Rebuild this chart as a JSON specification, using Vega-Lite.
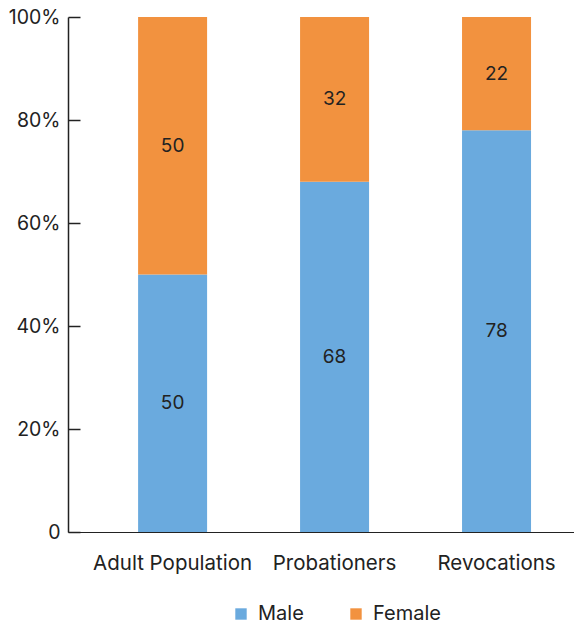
{
  "$schema": "https://vega.github.io/schema/vega-lite/v6.json",
  "autosize": {"type": "none"},
  "padding": {"left": 68, "top": 17, "right": 0, "bottom": 92},
  "width": 506,
  "height": 515,
  "config": {
    "font": "Inter",
    "view": {"stroke": null},
    "axis": {"labelFont": "Inter", "labelFontSize": 19.5, "labelColor": "#222222", "domainColor": "#222222", "tickColor": "#222222", "domainWidth": 1.5, "tickWidth": 1.5, "grid": false, "title": null},
    "legend": {"labelFont": "Inter", "labelFontSize": 20, "labelColor": "#222222"}
  },
  "data": {"values": [
    {"group": "Adult Population", "sex": "Male", "value": 50, "order": 1},
    {"group": "Adult Population", "sex": "Female", "value": 50, "order": 2},
    {"group": "Probationers", "sex": "Male", "value": 68, "order": 1},
    {"group": "Probationers", "sex": "Female", "value": 32, "order": 2},
    {"group": "Revocations", "sex": "Male", "value": 78, "order": 1},
    {"group": "Revocations", "sex": "Female", "value": 22, "order": 2}
  ]},
  "encoding": {
    "x": {"field": "group", "type": "nominal", "sort": null,
      "scale": {"paddingInner": 0.574, "paddingOuter": 0.349, "align": 0.62},
      "axis": {"labelAngle": 0, "ticks": false, "labelPadding": 21, "labelFontSize": 20.5, "domainWidth": 1.2}},
    "y": {"field": "value", "type": "quantitative", "stack": "normalize",
      "scale": {"domain": [0, 1]},
      "axis": {"values": [0, 0.2, 0.4, 0.6, 0.8, 1], "labelExpr": "datum.value == 0 ? '0' : format(datum.value, '.0%')", "tickSize": -12, "labelPadding": 20}},
    "order": {"field": "order", "type": "quantitative"}
  },
  "layer": [
    {"mark": {"type": "bar"},
      "encoding": {
        "color": {"field": "sex", "type": "nominal", "sort": ["Male", "Female"],
          "scale": {"domain": ["Male", "Female"], "range": ["#6AAADE", "#F2923F"]},
          "legend": {"orient": "none", "legendX": 163, "legendY": 587, "direction": "horizontal", "title": null, "symbolType": "square", "symbolSize": 130, "symbolStrokeWidth": 0, "columnPadding": 42, "labelOffset": 7}}
      }},
    {"mark": {"type": "text", "fontSize": 19, "color": "#222222", "font": "Inter"},
      "encoding": {
        "y": {"field": "value", "type": "quantitative", "stack": "normalize", "bandPosition": 0.5},
        "text": {"field": "value", "type": "quantitative"}
      }}
  ]
}
